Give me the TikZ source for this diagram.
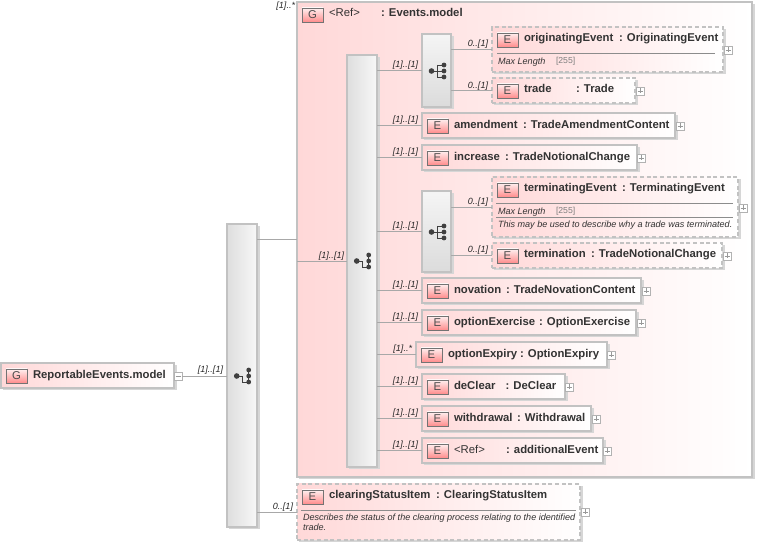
\documentclass[tikz,border=0pt]{standalone}
\usepackage{fontspec}
\setmainfont{Liberation Sans}
\definecolor{bordc}{HTML}{C2C2C2}
\definecolor{shadc}{HTML}{D6D6D6}
\definecolor{pinkc}{HTML}{FFD8D8}
\definecolor{txtc}{HTML}{333333}
\definecolor{linec}{HTML}{A8A8A8}
\definecolor{iconc}{HTML}{404040}
\tikzset{
  plainbox/.style={draw=bordc,line width=1pt,left color=pinkc,right color=white},
  dashbox/.style={plainbox,dash pattern=on 3pt off 2pt},
  groupbox/.style={draw=bordc,line width=1pt,left color=pinkc,right color=white},
  seqbox/.style={draw=bordc,line width=.8pt,left color=black!13,right color=black!3},
  choicebox/.style={draw=bordc,line width=.8pt,top color=black!4,bottom color=black!14},
  badge/.style={draw=black!55,line width=.6pt,top color=red!6,bottom color=red!45,inner sep=0pt,outer sep=0pt,minimum width=15.75pt,minimum height=10.5pt,font=\fontsize{8.5}{8.5}\selectfont,text=black!70},
  lbl/.style={inner sep=0pt,outer sep=0pt,anchor=base west,font=\fontsize{8.5}{10}\bfseries\selectfont,text=txtc},
  reflbl/.style={lbl,font=\fontsize{8.5}{10}\selectfont},
  mult/.style={inner sep=0pt,outer sep=0pt,anchor=base east,font=\fontsize{6.75}{8}\itshape\selectfont,text=black!85},
  note/.style={inner sep=0pt,outer sep=0pt,anchor=base west,font=\fontsize{6.8}{8}\itshape\selectfont,text=black!80},
  lim/.style={inner sep=0pt,outer sep=0pt,anchor=base west,font=\fontsize{6.5}{8}\selectfont,text=black!50},
  conn/.style={draw=linec,line width=.7pt},
  plusbox/.style={draw=black!30,fill=white,line width=.5pt,inner sep=0pt,outer sep=0pt,minimum size=6.2pt},
  sep/.style={draw=black!45,line width=.5pt},
}
% style, id, x, y, w, h
\newcommand\Bx[6]{%
  \fill[shadc] (#3+2,#4+2) rectangle (#3+#5+2.5,#4+#6+2.5);
  \node[#1,inner sep=0pt,outer sep=0pt,minimum width=#5*.75pt,minimum height=#6*.75pt] (#2) at ({#3+#5/2},{#4+#6/2}) {};}
% letter, id, centre x, centre y
\newcommand\Bd[4]{\node[badge] (#2) at (#3,#4) {#1};}
% id, x, baseline, text
\newcommand\Lb[4]{\node[lbl] (#1) at (#2,#3) {#4};}
% id, x, y
\newcommand\Pl[3]{\node[plusbox] (#1) at (#2,#3) {};
  \draw[black!40,line width=.4pt] (#2-2.5,#3) -- (#2+2.5,#3) (#2,#3-2.5) -- (#2,#3+2.5);}
\newcommand\Mi[3]{\draw[black!40,line width=.4pt] (#2-2.5,#3) -- (#2+2.5,#3);}
% element: style,id,x,y,w,h
\newcommand\El[6]{\Bx{#1}{#2}{#3}{#4}{#5}{#6}\Bd{E}{#2b}{#3+15.5}{#4+13}}
% sequence icon
\newcommand\SeqI[2]{\begin{scope}[shift={(#1,#2)}]
  \draw[iconc,line width=.7pt] (-5.3,0) -- (.7,0) -- (.7,6) -- (6.7,6) (6.7,-6) -- (6.7,6);
  \fill[iconc] (-5.3,0) circle (2.1pt) (6.7,-6) circle (1.8pt) (6.7,0) circle (1.8pt) (6.7,6) circle (1.8pt);
\end{scope}}
% choice icon
\newcommand\ChoI[2]{\begin{scope}[shift={(#1,#2)}]
  \draw[iconc,line width=.7pt] (-5.5,0) -- (7,0) (.3,-6) -- (.3,6) (.3,-6) -- (7,-6) (.3,6) -- (7,6);
  \fill[iconc] (-5.5,0) circle (2.1pt) (7,-6) circle (1.8pt) (7,0) circle (1.8pt) (7,6) circle (1.8pt);
\end{scope}}
\begin{document}
\begin{tikzpicture}[x=.75pt,y=-.75pt]
\useasboundingbox (0,0) rectangle (758,545);
% outer group
\Bx{groupbox}{grp}{297}{2}{455}{475}
\Bd{G}{grpb}{312.5}{15}
\node[reflbl] (grpn) at (329,17) {<Ref>};
\Lb{grpt}{381}{17}{: Events.model}
% root
\Bx{plainbox}{root}{1}{363}{173}{25}
\Bd{G}{rootb}{16.5}{376}
\Lb{rootn}{33}{378.5}{ReportableEvents.model}
\node[plusbox] (rootp) at (178,376) {};
\Mi{rootp}{178}{376}
% compositors
\Bx{seqbox}{s1}{227}{224}{30}{303}
\SeqI{242}{376}
\Bx{seqbox}{s2}{347}{55}{30}{412}
\SeqI{362}{261}
\Bx{choicebox}{c1}{422}{34}{29}{73}
\ChoI{437}{71}
\Bx{choicebox}{c2}{422}{191}{29}{81}
\ChoI{437}{232}
% elements
\El{dashbox}{oe}{492}{27}{231}{45}
\Lb{oen}{524}{42}{originatingEvent}\Lb{oet}{619}{42}{: OriginatingEvent}
\draw[sep] (497,53) -- (715,53);
\node[note] (oem) at (498,65) {Max Length};
\node[lim] (oel) at (556,64) {[255]};
\Pl{oep}{728}{50}

\El{dashbox}{tr}{492}{78}{143}{25}
\Lb{trn}{524}{93}{trade}\Lb{trt}{576}{93}{: Trade}
\Pl{trp}{640}{91}

\El{plainbox}{am}{422}{113}{253}{25}
\Lb{amn}{454}{128.5}{amendment}\Lb{amt}{523}{128.5}{: TradeAmendmentContent}
\Pl{amp}{680}{126}

\El{plainbox}{in}{422}{145}{215}{25}
\Lb{inn}{454}{160.5}{increase}\Lb{int}{505}{160.5}{: TradeNotionalChange}
\Pl{inp}{641}{158}

\El{dashbox}{te}{492}{177}{246}{60}
\Lb{ten}{524}{192}{terminatingEvent}\Lb{tet}{622}{192}{: TerminatingEvent}
\draw[sep] (496,203) -- (733,203) (496,217) -- (733,217);
\node[note] (tem) at (498,214.5) {Max Length};
\node[lim] (tel) at (556,214) {[255]};
\node[note] (ted) at (498,227.5) {This may be used to describe why a trade was terminated.};
\Pl{tep}{743}{208}

\El{dashbox}{tn}{492}{243}{230}{25}
\Lb{tnn}{524}{258}{termination}\Lb{tnt}{591}{258}{: TradeNotionalChange}
\Pl{tnp}{727}{256}

\El{plainbox}{no}{422}{278}{219}{25}
\Lb{non}{454}{293.5}{novation}\Lb{not}{506}{293.5}{: TradeNovationContent}
\Pl{nop}{646}{291}

\El{plainbox}{ox}{422}{310}{214}{25}
\Lb{oxn}{454}{325.5}{optionExercise}\Lb{oxt}{539}{325.5}{: OptionExercise}
\Pl{oxp}{641}{323}

\El{plainbox}{oy}{416}{342}{191}{25}
\Lb{oyn}{448}{357.5}{optionExpiry}\Lb{oyt}{520}{357.5}{: OptionExpiry}
\Pl{oyp}{611}{355}

\El{plainbox}{dc}{422}{374}{143}{25}
\Lb{dcn}{454}{389.5}{deClear}\Lb{dct}{505.5}{389.5}{: DeClear}
\Pl{dcp}{569.5}{387}

\El{plainbox}{wd}{422}{406}{169}{25}
\Lb{wdn}{454}{421.5}{withdrawal}\Lb{wdt}{517}{421.5}{: Withdrawal}
\Pl{wdp}{596}{419}

\El{plainbox}{ae}{422}{438}{181}{25}
\node[reflbl] (aen) at (454,453.5) {<Ref>};
\Lb{aet}{506}{453.5}{: additionalEvent}
\Pl{aep}{607.5}{451}

\El{dashbox}{cs}{297}{484}{283}{56}
\Lb{csn}{329}{499}{clearingStatusItem}\Lb{cst}{436}{499}{: ClearingStatusItem}
\draw[sep] (301,510) -- (576,510);
\node[note] (csd) at (303,520.5) {Describes the status of the clearing process relating to the identified};
\node[note] (cse) at (303,530.5) {trade.};
\Pl{csp}{585}{512}

% connectors
\draw[conn] (rootp.east) -- (s1.west |- rootp.east);
\draw[conn] (s1.east |- grp.west) -- (grp.west);
\draw[conn] (s1.east |- cs.west) -- (cs.west);
\coordinate (g1) at (297,261);
\draw[conn] (g1) -- (s2.west |- g1);
\foreach \n in {c1,am,in,c2,no,ox,oy,dc,wd,ae}
  \draw[conn] (s2.east |- \n.west) -- (\n.west);
\draw[conn] (c1.east |- oe.west) -- (oe.west);
\draw[conn] (c1.east |- tr.west) -- (tr.west);
\draw[conn] (c2.east |- te.west) -- (te.west);
\draw[conn] (c2.east |- tn.west) -- (tn.west);
% multiplicities
\node[mult] (m0) at (223,373) {[1]..[1]};
\node[mult] (m1) at (295,8.5) {[1]..*};
\node[mult] (m2) at (344,258.5) {[1]..[1]};
\node[mult] (m3) at (293,509.5) {0..[1]};
\node[mult] (m4) at (418,68) {[1]..[1]};
\node[mult] (m5) at (418,123) {[1]..[1]};
\node[mult] (m6) at (418,155) {[1]..[1]};
\node[mult] (m7) at (418,229) {[1]..[1]};
\node[mult] (m8) at (418,288) {[1]..[1]};
\node[mult] (m9) at (418,320) {[1]..[1]};
\node[mult] (m10) at (412,352) {[1]..*};
\node[mult] (m11) at (418,384) {[1]..[1]};
\node[mult] (m12) at (418,416) {[1]..[1]};
\node[mult] (m13) at (418,448) {[1]..[1]};
\node[mult] (m14) at (488,47) {0..[1]};
\node[mult] (m15) at (488,88.5) {0..[1]};
\node[mult] (m16) at (488,204.5) {0..[1]};
\node[mult] (m17) at (488,252.5) {0..[1]};
\end{tikzpicture}
\end{document}
